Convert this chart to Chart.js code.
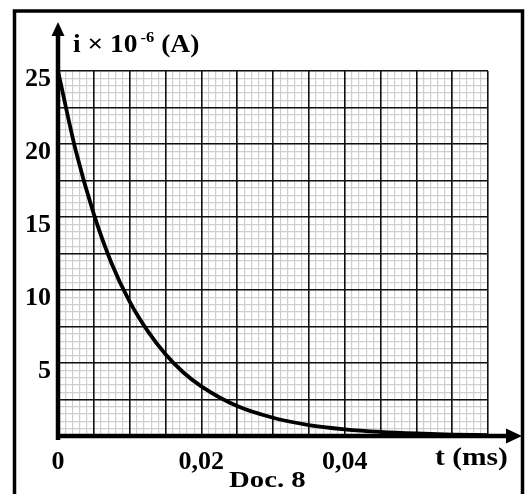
<!DOCTYPE html>
<html>
<head>
<meta charset="utf-8">
<script src="https://cdn.jsdelivr.net/npm/chart.js@4"></script>
<style>
  html, body { margin: 0; padding: 0; background: #fff; }
  canvas { display: block; }
</style>
</head>
<body>
<canvas id="decay" width="529" height="494"></canvas>
<script>
// t in ms, i in 10^-6 A
const tValues = [0, 0.0025, 0.005, 0.0075, 0.01, 0.0125, 0.015, 0.0175, 0.02,
  0.025, 0.03, 0.035, 0.04, 0.045, 0.05, 0.055, 0.06];
const iValues = [25, 19.5, 15.2, 11.8, 9.2, 7.2, 5.6, 4.35, 3.4,
  2.05, 1.25, 0.75, 0.46, 0.28, 0.17, 0.1, 0.06];

const xLabelValues = [0, 0.02, 0.04];
const xLabels = ["0", "0,02", "0,04"];
const yLabelValues = [5, 10, 15, 20, 25];
const yLabels = ["5", "10", "15", "20", "25"];

const serif = "'Liberation Serif', 'Times New Roman', serif";

function labelFor(v, values, labels) {
  for (let k = 0; k < values.length; k++) {
    if (Math.abs(v - values[k]) < 1e-9) return labels[k];
  }
  return "";
}

function stretchText(ctx, txt, x, y, sx) {
  ctx.save();
  ctx.translate(x, y);
  ctx.scale(sx, 1);
  ctx.fillText(txt, 0, 0);
  const w = ctx.measureText(txt).width * sx;
  ctx.restore();
  return w;
}

const decorations = {
  id: "decorations",
  afterDraw(chart) {
    const ctx = chart.ctx;
    const xs = chart.scales.x;
    const ys = chart.scales.y;
    const x0 = xs.getPixelForValue(0);
    const y0 = ys.getPixelForValue(0);
    ctx.save();
    ctx.fillStyle = "#000";
    ctx.strokeStyle = "#000";

    // outer frame
    ctx.lineWidth = 3.5;
    ctx.strokeRect(14.5, 11, 508, 492);

    // axes with arrows
    ctx.lineWidth = 4.5;
    ctx.beginPath();
    ctx.moveTo(x0, y0 + 4);
    ctx.lineTo(x0, 32);
    ctx.moveTo(x0 - 2, y0);
    ctx.lineTo(510, y0);
    ctx.stroke();
    ctx.beginPath();
    ctx.moveTo(x0, 22);
    ctx.lineTo(x0 - 6.5, 36);
    ctx.lineTo(x0 + 6.5, 36);
    ctx.closePath();
    ctx.fill();
    ctx.beginPath();
    ctx.moveTo(522, y0);
    ctx.lineTo(506, y0 - 7.5);
    ctx.lineTo(506, y0 + 7.5);
    ctx.closePath();
    ctx.fill();

    // axis titles
    ctx.textBaseline = "alphabetic";
    ctx.font = "bold 25px " + serif;
    let x = 73;
    x += stretchText(ctx, "i \u00d7 10", x, 52, 1.1);
    ctx.font = "bold 15px " + serif;
    x += stretchText(ctx, "-6", x + 3, 42, 1.1) + 3;
    ctx.font = "bold 25px " + serif;
    stretchText(ctx, " (A)", x, 52, 1.1);

    stretchText(ctx, "t (ms)", 435, 465, 1.18);

    ctx.font = "bold 23px " + serif;
    stretchText(ctx, "Doc. 8", 229, 487, 1.25);
    ctx.restore();
  }
};

const ctx = document.getElementById("decay").getContext("2d");
const chart = new Chart(ctx, {
  type: "line",
  data: {
    datasets: [
      {
        data: tValues.map((t, k) => ({ x: t, y: iValues[k] })),
        borderColor: "#000",
        borderWidth: 3.8,
        pointRadius: 0,
        fill: false,
        cubicInterpolationMode: "monotone",
      },
    ],
  },
  options: {
    responsive: false,
    animation: false,
    layout: { padding: { left: 0, top: 71, right: 41, bottom: 0 } },
    plugins: {
      legend: { display: false },
      tooltip: { enabled: false },
    },
    scales: {
      x: {
        type: "linear",
        position: "bottom",
        min: 0,
        max: 0.06,
        afterFit: (s) => { s.height = 58; },
        border: { display: false },
        grid: { color: "#111", lineWidth: 1.6, drawTicks: false, z: -1 },
        ticks: {
          stepSize: 0.005,
          autoSkip: false,
          maxRotation: 0,
          padding: 11,
          color: "#000",
          font: { family: serif, size: 26, weight: "bold" },
          callback: (v) => labelFor(v, xLabelValues, xLabels),
        },
      },
      xMinor: {
        type: "linear",
        position: "bottom",
        min: 0,
        max: 0.06,
        afterFit: (s) => { s.height = 0; },
        border: { display: false },
        grid: { color: "#cfcfcf", lineWidth: 1.2, drawTicks: false, z: -2 },
        ticks: { stepSize: 0.001, display: false },
      },
      y: {
        type: "linear",
        position: "left",
        min: 0,
        max: 25,
        afterFit: (s) => { s.width = 58; },
        border: { display: false },
        grid: { color: "#111", lineWidth: 1.6, drawTicks: false, z: -1 },
        ticks: {
          stepSize: 2.5,
          autoSkip: false,
          padding: 7,
          labelOffset: 8,
          color: "#000",
          font: { family: serif, size: 26, weight: "bold" },
          callback: (v) => labelFor(v, yLabelValues, yLabels),
        },
      },
      yMinor: {
        type: "linear",
        position: "left",
        min: 0,
        max: 25,
        afterFit: (s) => { s.width = 0; },
        border: { display: false },
        grid: { color: "#cfcfcf", lineWidth: 1.2, drawTicks: false, z: -2 },
        ticks: { stepSize: 0.5, display: false },
      },
    },
  },
  plugins: [decorations],
});
</script>
</body>
</html>
